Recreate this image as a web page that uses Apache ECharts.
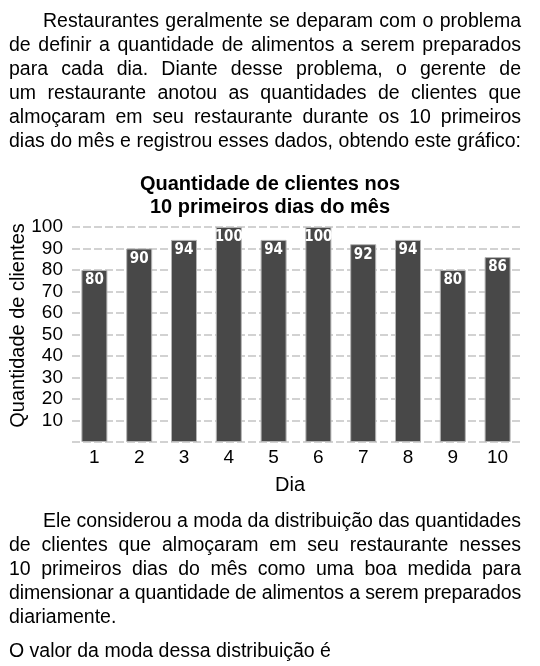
<!DOCTYPE html>
<html>
<head>
<meta charset="utf-8">
<script src="https://cdn.jsdelivr.net/npm/echarts@6/dist/echarts.min.js"></script>
<style>
  html, body { margin: 0; padding: 0; background: #fff; }
  #page { position: relative; width: 540px; height: 666px; overflow: hidden; }
  #chart { position: absolute; left: 0; top: 0; width: 540px; height: 666px; }
  .para { position: absolute; left: 9px; width: 512px; font-family: "Liberation Sans", Arial, sans-serif;
          font-size: 19.5px; color: #000; line-height: 24px; }
  .line { white-space: nowrap; height: 24px; }
  .line span { display: inline-block; }
</style>
</head>
<body>
<div id="page">
  <div id="chart"></div>
  <div class="para" id="topText" style="top:8px"></div>
  <div class="para" id="bottomText" style="top:508px"></div>
</div>
<script>
// dados do gráfico
const dias = ['1', '2', '3', '4', '5', '6', '7', '8', '9', '10'];
const clientes = [80, 90, 94, 100, 94, 100, 92, 94, 80, 86];
const titulo = ['Quantidade de clientes nos', '10 primeiros dias do mês'];

// texto do enunciado, linha a linha (indent = recuo, fill = justificada)
const topLines = [
  { t: 'Restaurantes geralmente se deparam com o problema', indent: 34, fill: true },
  { t: 'de definir a quantidade de alimentos a serem preparados', fill: true },
  { t: 'para cada dia. Diante desse problema, o gerente de', fill: true },
  { t: 'um restaurante anotou as quantidades de clientes que', fill: true },
  { t: 'almoçaram em seu restaurante durante os 10 primeiros', fill: true },
  { t: 'dias do mês e registrou esses dados, obtendo este gráfico:', fill: true }
];
const bottomLines = [
  { t: 'Ele considerou a moda da distribuição das quantidades', indent: 34, fill: true },
  { t: 'de clientes que almoçaram em seu restaurante nesses', fill: true },
  { t: '10 primeiros dias do mês como uma boa medida para', fill: true },
  { t: 'dimensionar a quantidade de alimentos a serem preparados', fill: true },
  { t: 'diariamente.', fill: false },
  { t: 'O valor da moda dessa distribuição é', fill: false, gap: 34 }
];

function writeLines(el, lines) {
  lines.forEach(function (l) {
    const row = document.createElement('div');
    row.className = 'line';
    if (l.gap) row.style.marginTop = (l.gap - 24) + 'px';
    const s = document.createElement('span');
    s.textContent = l.t;
    s.style.marginLeft = (l.indent || 0) + 'px';
    row.appendChild(s);
    el.appendChild(row);
    if (l.fill) {
      const target = 512 - (l.indent || 0);
      const extra = target - s.getBoundingClientRect().width;
      const spaces = (l.t.match(/ /g) || []).length;
      if (extra >= 0) {
        s.style.wordSpacing = (extra / spaces) + 'px';
      } else {
        s.style.letterSpacing = (extra / l.t.length) + 'px';
      }
    }
  });
}
writeLines(document.getElementById('topText'), topLines);
writeLines(document.getElementById('bottomText'), bottomLines);

let myChart = echarts.init(document.getElementById('chart'));
const tituloStyle = { fontSize: 20, fontWeight: 'bold', color: '#000' };
const option = {
  animation: false,
  textStyle: { fontFamily: 'Liberation Sans, Arial, sans-serif' },
  title: [
    { text: titulo[0], left: 'center', top: 174, padding: [0, 14, 0, 0], textStyle: tituloStyle },
    { text: titulo[1], left: 'center', top: 197, padding: [0, 14, 0, 0], textStyle: tituloStyle }
  ],
  grid: { left: 72, right: 20, top: 227, bottom: 224, outerBoundsMode: 'none' },
  xAxis: {
    type: 'category',
    data: dias,
    axisLine: { show: false },
    axisTick: { show: false },
    axisLabel: { fontSize: 19, color: '#000', margin: 6 },
    name: 'Dia',
    nameLocation: 'middle',
    nameGap: 33,
    nameMoveOverlap: false,
    nameTextStyle: { fontSize: 20, color: '#000', padding: [0, 12, 0, 0] }
  },
  yAxis: {
    type: 'value',
    min: 0,
    max: 100,
    interval: 10,
    axisLine: { show: false },
    axisTick: { show: false },
    axisLabel: {
      fontSize: 19, color: '#000', margin: 9,
      formatter: function (v) { return v === 0 ? '' : v; }
    },
    splitLine: { lineStyle: { color: '#c4c4c4', width: 1.5, type: [8, 3] } },
    name: 'Quantidade de clientes',
    nameLocation: 'middle',
    nameGap: 44,
    nameMoveOverlap: false,
    nameTextStyle: { fontSize: 20, color: '#000', padding: [0, 0, 0, 18] }
  },
  series: [{
    type: 'bar',
    data: clientes,
    barWidth: 26,
    itemStyle: { color: '#484848', borderColor: '#b4b4b4', borderWidth: 1 },
    label: {
      show: true,
      position: 'insideTop',
      distance: 3,
      color: '#fff',
      fontWeight: 'bold',
      fontSize: 15,
      fontFamily: 'Liberation Sans Narrow, DejaVu Sans Condensed, sans-serif'
    }
  }]
};
myChart.setOption(option);
</script>
</body>
</html>
